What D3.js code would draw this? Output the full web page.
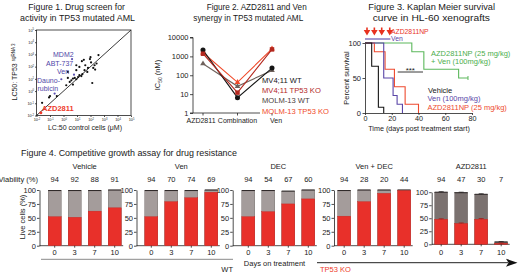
<!DOCTYPE html>
<html>
<head>
<meta charset="utf-8">
<script src="https://cdn.jsdelivr.net/npm/d3@7"></script>
<style>
body { margin: 0; background: #fff; }
svg { display: block; font-family: "Liberation Sans", Arial, sans-serif; }
.axis path, .axis line { stroke: #222; stroke-width: 0.8; }
.axis text { fill: #222; }
</style>
</head>
<body>
<script>
// ---------- Figure 1: drug screen, LC50 (uM) control vs TP53 sgRNA 3
const scrControl = [0.021, 0.026, 0.085, 0.10, 0.32, 0.22, 0.69, 1.6, 2.9, 3.8, 5.0, 6.8, 8.9, 12, 15, 21, 25, 6.0, 4.3, 8.9,
                    15, 23, 32, 41, 65, 91, 100, 110, 160, 200, 280, 390, 220, 135, 8.9, 36, 58, 5.0, 2.1, 2.1];
const scrTP53 =    [0.017, 0.11, 0.30, 0.39, 0.39, 0.62, 9.3, 3.0, 5.6, 7.6, 10.5, 12, 9.3, 14, 20, 17, 24, 22, 420, 51,
                    95, 280, 360, 130, 79, 420, 600, 220, 79, 130, 180, 890, 58, 4.6, 130, 51, 37, 3.4, 12, 37];
const scrHighlight = [0, 5, 6, 17, 18];   // AZD2811 (first) and the blue labelled drugs
const scrTicks = [1e-2, 1e-1, 1, 1e1, 1e2, 1e3, 1e4, 1e5];

// ---------- Figure 2: IC50 (nM)
const synCats = ["AZD2811", "Combination", "Ven"];
const synNames = ["MV4;11 WT", "MV4;11 TP53 KO", "MOLM-13 WT", "MOLM-13 TP53 KO"];
const mv411WT = [2150, 6.5, 240];
const mv411KO = [1380, 12, 2340];
const molm13WT = [410, 26, 180];
const molm13KO = [1550, 42, 2500];
const synTicks = [1, 10, 100, 1000, 10000];

// ---------- Figure 3: Kaplan Meier, [day, percent survival]
const kmVehicle = [[0, 100], [5, 66.7], [10, 8.3], [14, 0]];
const kmVen = [[0, 100], [14, 50], [21, 25], [24, 12.5], [28, 0]];
const kmAZD = [[0, 100], [7, 87.5], [15, 62.5], [22, 37.5], [30, 12.5], [40, 0]];
const kmCombo = [[0, 100], [35, 87.5], [44, 62.5], [70, 50], [77, 50]];
const doseDays = [1.5, 7, 12.5, 18.5];
const venDays = [0, 19];

// ---------- Figure 4: competitive growth assay
const days = ["0", "3", "7", "10"];
const groups = ["Vehicle", "Ven", "DEC", "Ven + DEC", "AZD2811"];
const viability = [[94, 92, 88, 91], [94, 70, 74, 69], [94, 54, 67, 60], [94, 28, 20, 44], [94, 47, 30, 7]];
const liveKO = [[52, 51, 62, 68], [52, 79, 86, 96], [52, 61, 75, 84], [53, 79, 94, 99], [48, 40, 48, 2]];
const liveTotal = [[99, 99, 99, 100], [99, 99, 99, 100], [99, 99, 98, 100], [99, 100, 100, 100], [100, 99, 96, 4.5]];
const azdErrTotal = [1, 1, 1, 0.8];
const azdErrKO = [1, 1, 1.5, 0.5];

const W = 520, H = 276;
const svg = d3.select("body").append("svg").attr("width", W).attr("height", H);
svg.append("rect").attr("width", W).attr("height", H).attr("fill", "#fff");

function label(x, y, s, size, opt) {
    opt = opt || {};
    const t = svg.append("text")
        .attr("x", x).attr("y", y)
        .attr("font-size", size)
        .attr("fill", opt.fill || "#1a1a1a")
        .attr("text-anchor", opt.anchor || "start")
        .text(s);
    if (opt.width) {
        t.attr("textLength", opt.width).attr("lengthAdjust", "spacingAndGlyphs");
    }
    return t;
}

// ======================= Figure 1 =======================
label(28.3, 9.5, "Figure 1. Drug screen for", 9, { width: 96.7 });
label(20, 20.5, "activity in TP53 mutated AML", 9, { width: 115 });

const x1 = d3.scaleLog().domain([1e-2, 1e5]).range([36.5, 131]);
const y1 = d3.scaleLog().domain([1e-2, 1e5]).range([115.5, 30]);

const g1 = svg.append("g");
g1.append("rect").attr("x", 36.5).attr("y", 30).attr("width", 94.5).attr("height", 85.5)
    .attr("fill", "none").attr("stroke", "#222").attr("stroke-width", 0.8);

function superTicks(sel) {
    sel.selectAll(".tick text").each(function(d) {
        const t = d3.select(this);
        t.text("10");
        t.append("tspan").attr("dy", -1.5).attr("font-size", 2.6).text(Math.round(Math.log10(d)));
    });
}

g1.append("g").attr("class", "axis").attr("transform", "translate(0,115.5)")
    .call(d3.axisBottom(x1).tickValues(scrTicks).tickSize(1.5).tickPadding(1.5))
    .call(g => g.select(".domain").remove())
    .call(g => g.selectAll("text").attr("font-size", 3.8))
    .call(superTicks);
g1.append("g").attr("class", "axis").attr("transform", "translate(36.5,0)")
    .call(d3.axisLeft(y1).tickValues(scrTicks).tickSize(1.5).tickPadding(1))
    .call(g => g.select(".domain").remove())
    .call(g => g.selectAll("text").attr("font-size", 3.8))
    .call(superTicks);

// identity line
g1.append("line")
    .attr("x1", x1(1e-2)).attr("y1", y1(1e-2)).attr("x2", x1(1e5)).attr("y2", y1(1e5))
    .attr("stroke", "#222").attr("stroke-width", 0.9);

g1.selectAll(".pt").data(scrControl.map((c, i) => ({ c: c, t: scrTP53[i], i: i })))
    .enter().append("circle")
    .attr("cx", d => x1(d.c))
    .attr("cy", d => y1(d.t))
    .attr("r", d => d.i === 0 ? 1.5 : 1.1)
    .attr("fill", d => d.i === 0 ? "#ee3b2b" : (scrHighlight.includes(d.i) ? "#5a4fb0" : "#111"));

label(53, 56.5, "MDM2", 7, { fill: "#4f46a8" });
label(46, 65.5, "ABT-737", 7, { fill: "#4f46a8" });
label(57, 73.5, "Ven", 7, { fill: "#4f46a8" });
label(37, 82.5, "Dauno-", 7, { fill: "#4f46a8" });
label(37.5, 90.5, "rubicin", 7, { fill: "#4f46a8" });
label(42, 111, "AZD2811", 7.5, { fill: "#ee3b2b" }).attr("font-weight", "bold");

label(85, 129.5, "LC:50 control cells (μM)", 7, { anchor: "middle" });
const yl1 = svg.append("text").attr("transform", "translate(17,72) rotate(-90)")
    .attr("text-anchor", "middle").attr("font-size", 7).attr("fill", "#1a1a1a");
yl1.append("tspan").text("LC50: TP53 ");
yl1.append("tspan").attr("font-size", 4.5).attr("dy", -2.5).text("sgRNA 3");

// ======================= Figure 2 =======================
label(206.7, 9.5, "Figure 2. AZD2811 and Ven", 9, { width: 100 });
label(193.3, 20.5, "synergy in TP53 mutated AML", 9, { width: 110 });

const x2 = d3.scalePoint().domain(synCats).range([203, 272]);
const y2 = d3.scaleLog().domain([1, 10000]).range([113, 37.5]);

const g2 = svg.append("g");
g2.append("g").attr("class", "axis").attr("transform", "translate(193,0)")
    .call(d3.axisLeft(y2).tickValues(synTicks).tickFormat(d3.format("d")).tickSize(3).tickPadding(1.5))
    .call(g => g.select(".domain").attr("d", "M-3,37.5H0V113H-3"))
    .call(g => g.selectAll("text").attr("font-size", 7.5));
g2.append("line").attr("x1", 193).attr("x2", 260).attr("y1", 113).attr("y2", 113)
    .attr("stroke", "#222").attr("stroke-width", 0.8);
synCats.forEach(c => {
    g2.append("line").attr("x1", x2(c)).attr("x2", x2(c)).attr("y1", 113).attr("y2", 115.5)
        .attr("stroke", "#222").attr("stroke-width", 0.8);
});
label(x2("AZD2811") - 2, 123, "AZD2811", 7, { anchor: "middle" });
label(x2("Combination"), 123, "Combination", 7, { anchor: "middle" });
label(x2("Ven") + 4, 123, "Ven", 7, { anchor: "middle" });

const synSeries = [
    { name: synNames[2], vals: molm13WT, color: "#6f625c", shape: d3.symbolTriangle },
    { name: synNames[3], vals: molm13KO, color: "#f04a2a", shape: d3.symbolTriangle },
    { name: synNames[0], vals: mv411WT, color: "#151515", shape: d3.symbolCircle },
    { name: synNames[1], vals: mv411KO, color: "#b3281f", shape: d3.symbolSquare }
];
const line2 = d3.line().x((d, i) => x2(synCats[i])).y(d => y2(d));
synSeries.forEach(s => {
    g2.append("path").datum(s.vals)
        .attr("fill", "none").attr("stroke", s.color).attr("stroke-width", 1.1)
        .attr("d", line2);
    g2.selectAll(null).data(s.vals).enter().append("path")
        .attr("transform", (d, i) => `translate(${x2(synCats[i])},${y2(d)})`)
        .attr("d", d3.symbol().type(s.shape).size(s.shape === d3.symbolTriangle ? 14 : 20))
        .attr("fill", s.color);
});

const synLegendColors = ["#151515", "#b3281f", "#4a403b", "#f04a2a"];
synNames.forEach((n, i) => label(262, 83 + i * 10.2, n, 7.6, { fill: synLegendColors[i] }));

const yl2 = svg.append("text").attr("transform", "translate(160,75) rotate(-90)")
    .attr("text-anchor", "middle").attr("font-size", 7.5).attr("fill", "#1a1a1a");
yl2.append("tspan").text("IC");
yl2.append("tspan").attr("font-size", 5).attr("dy", 1.5).text("50");
yl2.append("tspan").attr("dy", -1.5).text(" (nM)");

// ======================= Figure 3 =======================
label(368.3, 9.5, "Figure 3. Kaplan Meier survival", 9, { width: 126.7 });
label(372.7, 20.5, "curve in HL-60 xenografts", 9, { width: 117.3 });

const x3 = d3.scaleLinear().domain([0, 80]).range([365, 472]);
const y3 = d3.scaleLinear().domain([0, 100]).range([113, 43]);
const g3 = svg.append("g");

g3.append("g").attr("class", "axis").attr("transform", "translate(0,113)")
    .call(d3.axisBottom(x3).tickValues([0, 20, 40, 60, 80]).tickSize(2).tickPadding(0.8).tickSizeOuter(0))
    .call(g => g.selectAll("text").attr("font-size", 7.2));
g3.append("g").attr("class", "axis").attr("transform", "translate(365,0)")
    .call(d3.axisLeft(y3).tickValues([0, 50, 100]).tickSize(2.5).tickPadding(1.5).tickSizeOuter(0))
    .call(g => g.selectAll("text").attr("font-size", 7.5));

const km = d3.line().x(d => x3(d[0])).y(d => y3(d[1])).curve(d3.curveStepAfter);
[[kmCombo, "#5cb85c"], [kmAZD, "#ee4a2f"], [kmVen, "#5a46a8"], [kmVehicle, "#151515"]].forEach(k => {
    g3.append("path").datum(k[0]).attr("fill", "none").attr("stroke", k[1]).attr("stroke-width", 1.1).attr("d", km);
});
// censor tick at end of combination curve
const lastC = kmCombo[kmCombo.length - 1];
g3.append("line").attr("x1", x3(lastC[0])).attr("x2", x3(lastC[0]))
    .attr("y1", y3(lastC[1]) - 2).attr("y2", y3(lastC[1]) + 2)
    .attr("stroke", "#5cb85c").attr("stroke-width", 1);

// dosing arrows and ven bar
doseDays.forEach(d => {
    const x = x3(d);
    g3.append("path")
        .attr("d", `M${x - 0.8},27.5H${x + 0.8}V30H${x + 3.3}L${x},35.5L${x - 3.3},30H${x - 0.8}Z`)
        .attr("fill", "#e8321f");
});
g3.append("line").attr("x1", x3(venDays[0])).attr("x2", x3(venDays[1])).attr("y1", 39).attr("y2", 39)
    .attr("stroke", "#5a46a8").attr("stroke-width", 1.1);
label(391, 33.6, "AZD2811NP", 6.8, { fill: "#e8321f" });
label(391, 41.2, "Ven", 6.8, { fill: "#5a46a8" });

// significance
g3.append("line").attr("x1", 397.7).attr("x2", 423).attr("y1", 72).attr("y2", 72)
    .attr("stroke", "#222").attr("stroke-width", 0.9);
label(410.3, 73, "***", 8, { anchor: "middle" });

label(431, 55.5, "AZD2811NP (25 mg/kg)", 7.5, { fill: "#4cae4c" });
label(431, 64, "+ Ven (100mg/kg)", 7.5, { fill: "#4cae4c" });
label(428, 92.5, "Vehicle", 7.5, { fill: "#151515" });
label(427.5, 101.3, "Ven (100mg/kg)", 7.5, { fill: "#5a46a8" });
label(427.5, 110.3, "AZD2811NP (25 mg/kg)", 7.5, { fill: "#ee4a2f" });

label(419, 131, "Time (days post treatment start)", 7.2, { anchor: "middle" });
svg.append("text").attr("transform", "translate(349,78) rotate(-90)")
    .attr("text-anchor", "middle").attr("font-size", 7.5).attr("fill", "#1a1a1a")
    .text("Percent survival");

// ======================= Figure 4 =======================
label(21, 155.5, "Figure 4. Competitive growth assay for drug resistance", 9, { width: 216 });

const panelAxisX = [39.5, 136.5, 232.7, 334, 431.7];
const panelFirstBar = [54.7, 151.3, 248.3, 344.2, 441.2];
const panelY = [[245.7, 190], [245.7, 190], [245.7, 190], [245.7, 190], [244.3, 192.2]];
const barW = 13;

label(-1.5, 182, "Viability (%)", 7.5);

groups.forEach((grp, p) => {
    const g = svg.append("g");
    const x = d3.scalePoint().domain(days).range([panelFirstBar[p], panelFirstBar[p] + 60]);
    const y = d3.scaleLinear().domain([0, 100]).range(panelY[p]);
    const grayCol = p === 4 ? "#7b7270" : "#a49c9b";

    g.append("g").attr("class", "axis").attr("transform", `translate(${panelAxisX[p]},0)`)
        .call(d3.axisLeft(y).tickValues([0, 25, 50, 75, 100]).tickSize(2.5).tickPadding(1).tickSizeOuter(0))
        .call(a => a.selectAll("text").attr("font-size", 7.5));
    g.append("line")
        .attr("x1", panelAxisX[p]).attr("x2", x("10") + barW / 2 + 2)
        .attr("y1", y(0)).attr("y2", y(0))
        .attr("stroke", "#222").attr("stroke-width", 0.8);

    days.forEach((d, i) => {
        const cx = x(d);
        g.append("rect").attr("x", cx - barW / 2).attr("width", barW)
            .attr("y", y(liveTotal[p][i])).attr("height", y(0) - y(liveTotal[p][i]))
            .attr("fill", grayCol).attr("stroke", "#5e5654").attr("stroke-width", 0.4);
        g.append("line").attr("x1", cx - barW / 2).attr("x2", cx + barW / 2)
            .attr("y1", y(liveTotal[p][i])).attr("y2", y(liveTotal[p][i]))
            .attr("stroke", "#2a2424").attr("stroke-width", 1);
        g.append("rect").attr("x", cx - barW / 2).attr("width", barW)
            .attr("y", y(liveKO[p][i])).attr("height", y(0) - y(liveKO[p][i]))
            .attr("fill", "#e8302a").attr("stroke", "#c8231f").attr("stroke-width", 0.4);
        if (p === 4) {
            [[liveTotal[p][i], azdErrTotal[i], "#2a2424"], [liveKO[p][i], azdErrKO[i], "#a51d18"]].forEach(e => {
                g.append("path")
                    .attr("d", `M${cx - 2.5},${y(e[0] + e[1])}H${cx + 2.5}M${cx},${y(e[0] + e[1])}V${y(e[0])}`)
                    .attr("stroke", e[2]).attr("stroke-width", 0.8).attr("fill", "none");
            });
        }
        g.append("line").attr("x1", cx).attr("x2", cx).attr("y1", y(0)).attr("y2", y(0) + 2)
            .attr("stroke", "#222").attr("stroke-width", 0.8);
        label(cx, 255, d, 7.5, { anchor: "middle" });
        label(cx, 182, viability[p][i], 7.5, { anchor: "middle" });
    });
    label((x("0") + x("10")) / 2, 169, grp, 7.5, { anchor: "middle" });
});

svg.append("text").attr("transform", "translate(24.5,217) rotate(-90)")
    .attr("text-anchor", "middle").attr("font-size", 7.5).attr("fill", "#1a1a1a")
    .text("Live cells (%)");

// bottom WT -> TP53 KO arrow
svg.append("line").attr("x1", 41).attr("x2", 233).attr("y1", 259.3).attr("y2", 259.3)
    .attr("stroke", "#8a8a8a").attr("stroke-width", 1);
svg.append("line").attr("x1", 317).attr("x2", 508).attr("y1", 262.7).attr("y2", 262.7)
    .attr("stroke", "#222").attr("stroke-width", 1);
svg.append("path").attr("d", "M506,258.7L517.5,262.7L506,266.7L508.5,262.7Z").attr("fill", "#111");
label(233, 272, "WT", 7.5, { anchor: "end" });
label(274.5, 265.5, "Days on treatment", 7.5, { anchor: "middle" });
label(320, 272, "TP53 KO", 7.5, { fill: "#ee3b2b" });
</script>
</body>
</html>
